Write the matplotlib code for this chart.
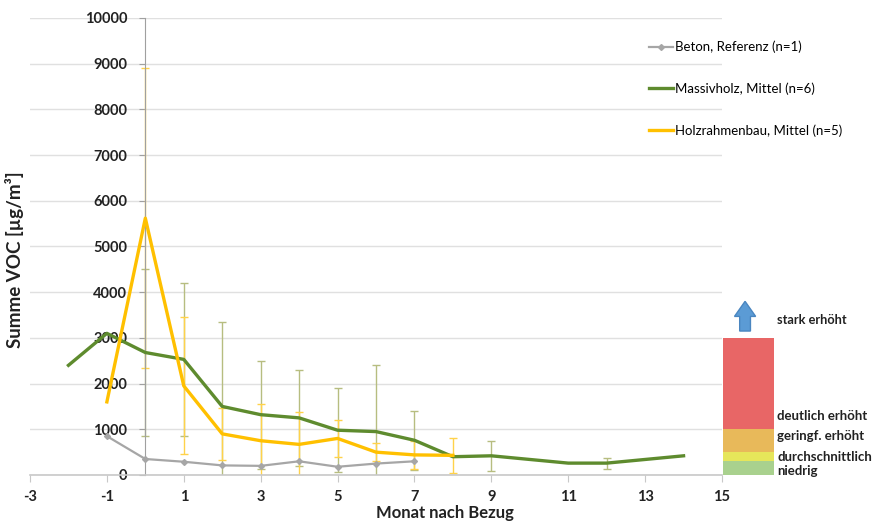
import numpy as np
import matplotlib
matplotlib.use("Agg")
import matplotlib.pyplot as plt
from matplotlib.patches import Rectangle, FancyArrow

plt.rcParams['font.family'] = ['Lato', 'DejaVu Sans']
plt.rcParams['axes.unicode_minus'] = False

# Daten
beton_x = [-1, 0, 1, 2, 3, 4, 5, 6, 7]
beton_y = [850, 350, 290, 210, 200, 300, 180, 250, 300]

massiv_x = [-2, -1, 0, 1, 2, 3, 4, 5, 6, 7, 8, 9, 11, 12, 14]
massiv_y = [2400, 3100, 2680, 2530, 1500, 1320, 1250, 980, 950, 760, 400, 420, 260, 260, 420]
massiv_err = [0, 0, 1820, 1680, 1850, 1180, 1050, 920, 1450, 640, 0, 330, 0, 120, 0]

holz_x = [-1, 0, 1, 2, 3, 4, 5, 6, 7, 8]
holz_y = [1600, 5620, 1950, 900, 750, 670, 800, 500, 440, 430]
holz_err = [0, 3280, 1500, 570, 800, 700, 400, 200, 300, 380]

# Bewertungsstufen
stufen_unten = [0, 300, 500, 1000]
stufen_oben = [300, 500, 1000, 3000]
stufen_farben = ['#a9d18e', '#e6e65a', '#e8b95a', '#e86666']
stufen_labels = ['niedrig', 'durchschnittlich', 'geringf. erhöht', 'deutlich erhöht']
stufen_text_y = [90, 390, 850, 1290]

c_grau = '#a6a6a6'
c_gruen = '#5e8b2e'
c_gelb = '#ffc000'

fig = plt.figure(figsize=(8.8, 5.25), dpi=100)
ax = fig.add_axes([30/880, 50/525, 692/880, 457/525])

# Fehlerbalken
mx = [x for x, e in zip(massiv_x, massiv_err) if e > 0]
my = [y for y, e in zip(massiv_y, massiv_err) if e > 0]
me = [e for e in massiv_err if e > 0]
ax.errorbar(mx, my, yerr=me, fmt='none', ecolor='#b7bd80', elinewidth=1, capsize=3, zorder=2)
hx = [x for x, e in zip(holz_x, holz_err) if e > 0]
hy = [y for y, e in zip(holz_y, holz_err) if e > 0]
he = [e for e in holz_err if e > 0]
ax.errorbar(hx, hy, yerr=he, fmt='none', ecolor='#ffd24a', elinewidth=1, capsize=3, zorder=2)

ax.plot(beton_x, beton_y, color=c_grau, lw=1.6, marker='D', ms=3, label='Beton, Referenz (n=1)', zorder=4)
ax.plot(massiv_x, massiv_y, color=c_gruen, lw=2.4, label='Massivholz, Mittel (n=6)', zorder=4)
ax.plot(holz_x, holz_y, color=c_gelb, lw=2.4, label='Holzrahmenbau, Mittel (n=5)', zorder=5)

ax.set_xlim(-3, 15)
ax.set_ylim(0, 10000)
ax.set_xticks(range(-3, 16, 2))
ax.set_yticks(range(0, 10001, 1000))
ax.yaxis.grid(True, color='#e0e0e0', lw=1)
ax.set_axisbelow(True)

for s in ['top', 'right']:
    ax.spines[s].set_visible(False)
ax.spines['left'].set_position(('data', 0))
ax.spines['left'].set_color('#a0a0a0')
ax.spines['bottom'].set_color('#c8c8c8')
ax.spines['bottom'].set_linewidth(1.2)
ax.tick_params(axis='x', colors='#c8c8c8', length=5, labelcolor='#222222', labelsize=10.5, pad=6)
ax.tick_params(axis='y', colors='#a0a0a0', length=4, labelcolor='#222222', labelsize=10.5, pad=9)
for lab in ax.get_xticklabels() + ax.get_yticklabels():
    lab.set_fontweight('bold')

# Bewertungsskala rechts
for u, o, f, l, ty in zip(stufen_unten, stufen_oben, stufen_farben, stufen_labels, stufen_text_y):
    ax.add_patch(Rectangle((15.03, u), 1.33, o - u, facecolor=f, edgecolor='none', clip_on=False, zorder=3))
    ax.text(16.44, ty, l, fontsize=9.5, fontweight='bold', color='#222222', va='center', ha='left', clip_on=False)
ax.add_patch(FancyArrow(15.6, 3150, 0, 650, width=0.28, head_width=0.55, head_length=330,
                        length_includes_head=True, facecolor='#5b9bd5', edgecolor='#4a86c0',
                        clip_on=False, zorder=3))
ax.text(16.44, 3400, 'stark erhöht', fontsize=9.2, fontweight='bold', color='#222222', va='center', ha='left', clip_on=False)

leg = fig.legend(loc='upper left', bbox_to_anchor=(637/880, 1 - 29/525), frameon=False,
                 fontsize=9.5, handlelength=1.8, labelspacing=2.2, handletextpad=0.2)

fig.text(15/880, 1 - 260/525, 'Summe VOC [µg/m³]', rotation=90, fontsize=13.5, fontweight='bold',
         va='center', ha='center', color='#222222')
fig.text(445/880, 1 - 513/525, 'Monat nach Bezug', fontsize=12, fontweight='bold',
         va='center', ha='center', color='#222222')

fig.savefig('out.png', dpi=100)
